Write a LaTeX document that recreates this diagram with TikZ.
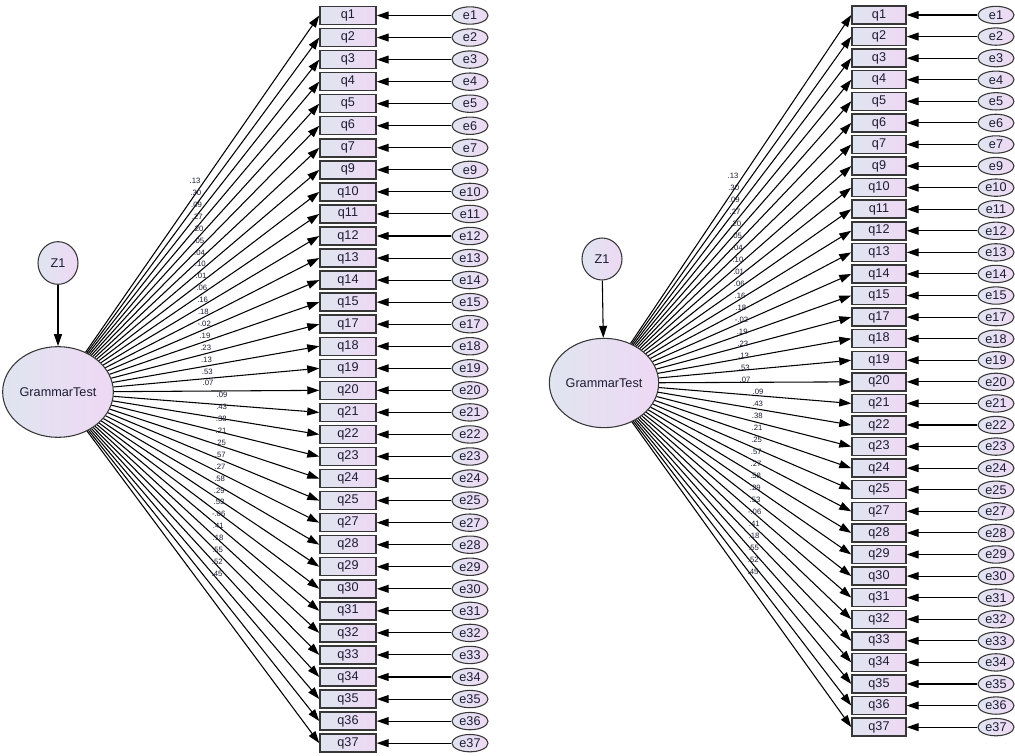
\documentclass[tikz,border=0pt]{standalone}
\usepackage{fontspec}
\setmainfont{Liberation Sans}
\usetikzlibrary{arrows.meta,shapes.geometric}
\definecolor{boxL}{RGB}{224,229,240}
\definecolor{boxR}{RGB}{238,216,244}
\definecolor{txt}{RGB}{28,28,50}
\definecolor{edgec}{RGB}{55,55,55}
\tikzset{
 obs/.style={draw=edgec, line width=1.1pt, left color=boxL, right color=boxR, minimum height=13.5pt, inner sep=0pt, text=txt, font=\fontsize{9.5}{11}\selectfont},
 err/.style={ellipse, draw=edgec, line width=0.8pt, left color=boxL, right color=boxR, minimum width=27pt, minimum height=13pt, inner sep=0pt, text=txt, font=\fontsize{9.5}{11}\selectfont},
 lat/.style={ellipse, draw=edgec, line width=0.8pt, left color=boxL, right color=boxR, inner sep=0pt, text=txt, font=\fontsize{9.5}{11}\selectfont},
 arr/.style={-{Triangle[length=9pt,width=6pt]}, line width=0.8pt, black},
 lab/.style={font=\fontsize{5.8}{6}\selectfont, inner sep=0pt, text=txt}
}
\begin{document}
\begin{tikzpicture}[x=0.75pt,y=-0.75pt]
\useasboundingbox (0,0) rectangle (1015,756);
% ---------- left panel ----------
\node[lat, minimum width=30pt, minimum height=32pt] (LZ) at (58,263) {Z1};
\node[lat, minimum width=83pt, minimum height=68pt] (LG) at (58,392) {GrammarTest};
\draw[arr] (LZ) -- (LG);
\foreach \q/\lab [count=\i from 0] in {1/.13,2/.30,3/.09,4/.27,5/.20,6/.05,7/.04,9/.10,10/.01,11/.06,12/.16,13/.18,14/-.02,15/.19,17/.23,18/.13,19/.53,20/.07,21/.09,22/.43,23/.38,24/.21,25/.25,27/.57,28/.27,29/.58,30/.29,31/.53,32/-.06,33/.41,34/.18,35/.55,36/.52,37/.45}{
 \pgfmathsetmacro\yy{15.5+22.05*\i}
 \pgfmathsetmacro\lx{\i<18 ? 195+13*\i/17 : 222-5*(\i-18)/15}
 \pgfmathsetmacro\ly{181+11.9*\i}
 \node[obs, minimum width=42pt] (Lq\q) at (348,\yy) {q\q};
 \node[err] (Le\q) at (470,\yy) {e\q};
 \draw[arr] (Le\q) -- (Lq\q);
 \draw[arr] (LG) -- (Lq\q.west);
 \node[lab] (Ll\q) at (\lx,\ly) {\lab};
}
% ---------- right panel ----------
\node[lat, minimum width=30pt, minimum height=31.5pt] (RZ) at (602,259) {Z1};
\node[lat, minimum width=82pt, minimum height=67pt] (RG) at (604,383) {GrammarTest};
\draw[arr] (RZ) -- (RG);
\foreach \q/\lab [count=\i from 0] in {1/.13,2/.30,3/.09,4/.27,5/.20,6/.05,7/.04,9/.10,10/.01,11/.06,12/.16,13/.18,14/-.02,15/.19,17/.23,18/.13,19/.53,20/.07,21/.09,22/.43,23/.38,24/.21,25/.25,27/.57,28/.27,29/.58,30/.29,31/.53,32/-.06,33/.41,34/.18,35/.55,36/.52,37/.45}{
 \pgfmathsetmacro\yy{15+21.58*\i}
 \pgfmathsetmacro\lx{\i<18 ? 733+12*\i/17 : 758-5*(\i-18)/15}
 \pgfmathsetmacro\ly{176+12*\i}
 \node[obs, minimum width=40.5pt] (Rq\q) at (879,\yy) {q\q};
 \node[err] (Re\q) at (996,\yy) {e\q};
 \draw[arr] (Re\q) -- (Rq\q);
 \draw[arr] (RG) -- (Rq\q.west);
 \node[lab] (Rl\q) at (\lx,\ly) {\lab};
}
\end{tikzpicture}
\end{document}
